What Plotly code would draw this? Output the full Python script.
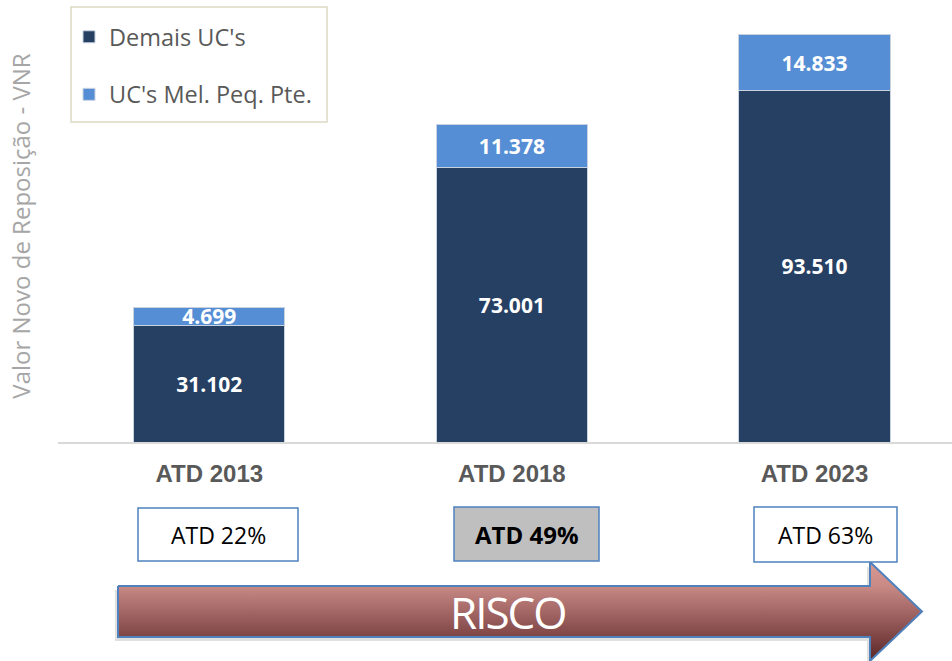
import plotly.graph_objects as go

# ---------------- data ----------------
categories = ["ATD 2013", "ATD 2018", "ATD 2023"]
demais = [31102, 73001, 93510]
mel_peq = [4699, 11378, 14833]
series_names = ["Demais UC's", "UC's Mel. Peq. Pte."]
atd_labels = ["ATD 22%", "ATD 49%", "ATD 63%"]
atd_highlight = [False, True, False]
risk_text = "RISCO"
y_title = "Valor Novo de Reposição - VNR"

# ---------------- layout constants (pixels) ----------------
W, H = 952, 661
PLOT_LEFT, PLOT_TOP, BASE_Y = 58, 10, 442
PX_PER_UNIT = 0.00376
DARK = "#264064"
LIGHT = "#558ED5"
BORDER_BLUE = "#4F81BD"

fig = go.Figure()

bar_text_font = dict(family="Open Sans", size=21, color="white", weight="bold")
for vals, name, color, grp in [(demais, series_names[0], DARK, "a"),
                               (mel_peq, series_names[1], LIGHT, "b")]:
    fig.add_trace(go.Bar(
        x=categories, y=vals, name=name, legendgroup=grp,
        marker=dict(color=color, line=dict(color="#c9d3e0", width=1)),
        texttemplate="%{y:,.0f}", textposition="inside",
        insidetextanchor="middle", textangle=0,
        textfont=bar_text_font, hoverinfo="skip",
        xaxis="x", yaxis="y",
    ))

# ---------------- arrow (decoration in a pixel-coordinate overlay) ----------------
ax = [118, 870, 870, 922, 870, 870, 118, 118]
ay = [586, 586, 562, 611.5, 661, 637, 637, 586]
fig.add_trace(go.Scatter(
    x=[v - 3 for v in ax], y=[v + 4 for v in ay], mode="lines",
    fill="toself", fillcolor="rgba(0,0,0,0.12)", line=dict(width=0),
    showlegend=False, hoverinfo="skip", xaxis="x2", yaxis="y2",
))
fig.add_trace(go.Scatter(
    x=ax, y=ay, mode="lines", fill="toself",
    fillgradient=dict(type="vertical", start=562, stop=661,
                      colorscale=[[0, "#d99a96"], [0.24, "#c98a86"],
                                  [0.76, "#7d4444"], [1, "#5a2626"]]),
    line=dict(color=BORDER_BLUE, width=2),
    showlegend=False, hoverinfo="skip", xaxis="x2", yaxis="y2",
))

shapes = [
    # legend frame
    dict(type="rect", xref="x2", yref="y2", x0=71, y0=7, x1=327, y1=122,
         line=dict(color="#ddd9c3", width=1.5), fillcolor="white", layer="below"),
]
box_geom = [(138, 508, 298, 561), (454, 507, 599, 561), (754, 507, 897, 562)]
annotations = []
for (x0, y0, x1, y1), lab, hl in zip(box_geom, atd_labels, atd_highlight):
    shapes.append(dict(type="rect", xref="x2", yref="y2", x0=x0, y0=y0, x1=x1, y1=y1,
                       line=dict(color=BORDER_BLUE, width=1.5),
                       fillcolor="#bfbfbf" if hl else "white", layer="above"))
    annotations.append(dict(xref="x2", yref="y2", x=(x0 + x1) / 2, y=(y0 + y1) / 2,
                            text=lab, showarrow=False,
                            font=dict(family="Open Sans", size=24 if hl else 23,
                                      color="black",
                                      weight="bold" if hl else "normal")))
annotations.append(dict(xref="x2", yref="y2", x=508, y=612,
                        text="<span style='letter-spacing:-2px'>" + risk_text + "</span>",
                        showarrow=False,
                        font=dict(family="Open Sans", size=44, color="white")))

fig.update_layout(
    width=W, height=H, margin=dict(l=0, r=0, t=0, b=0),
    paper_bgcolor="white", plot_bgcolor="rgba(0,0,0,0)",
    barmode="stack", bargap=0.5, separators=",.",
    uniformtext=dict(minsize=21, mode="show"),
    showlegend=True,
    legend=dict(x=69 / W, y=1 - 15 / H, xanchor="left", yanchor="top",
                bgcolor="rgba(0,0,0,0)", borderwidth=0,
                traceorder="grouped", tracegroupgap=24,
                font=dict(family="Open Sans", size=23.5, color="#595959")),
    xaxis=dict(domain=[PLOT_LEFT / W, 1], type="category",
               range=[-0.5, 2.4545], anchor="y",
               showline=True, linecolor="#d9d9d9", linewidth=1.5,
               ticks="", showgrid=False, zeroline=False, fixedrange=True,
               ticklabelstandoff=9,
               tickfont=dict(family="Liberation Sans, Arial", size=24,
                             color="#595959", weight="bold")),
    yaxis=dict(domain=[(H - BASE_Y) / H, (H - PLOT_TOP) / H], anchor="x",
               range=[0, (BASE_Y - PLOT_TOP) / PX_PER_UNIT],
               showticklabels=False, showgrid=False, zeroline=False,
               showline=False, ticks="", fixedrange=True,
               title=dict(text=y_title, standoff=19,
                          font=dict(family="Open Sans", size=24, color="#a6a6a6"))),
    xaxis2=dict(domain=[0, 1], range=[0, W], anchor="y2", visible=False,
                fixedrange=True),
    yaxis2=dict(domain=[0, 1], range=[H, 0], anchor="x2", visible=False,
                fixedrange=True),
    shapes=shapes, annotations=annotations,
)

fig.write_html("out.html",
               config={"displayModeBar": False},
               post_script="document.body.style.margin='0';"
                           "document.body.style.overflow='hidden';")
